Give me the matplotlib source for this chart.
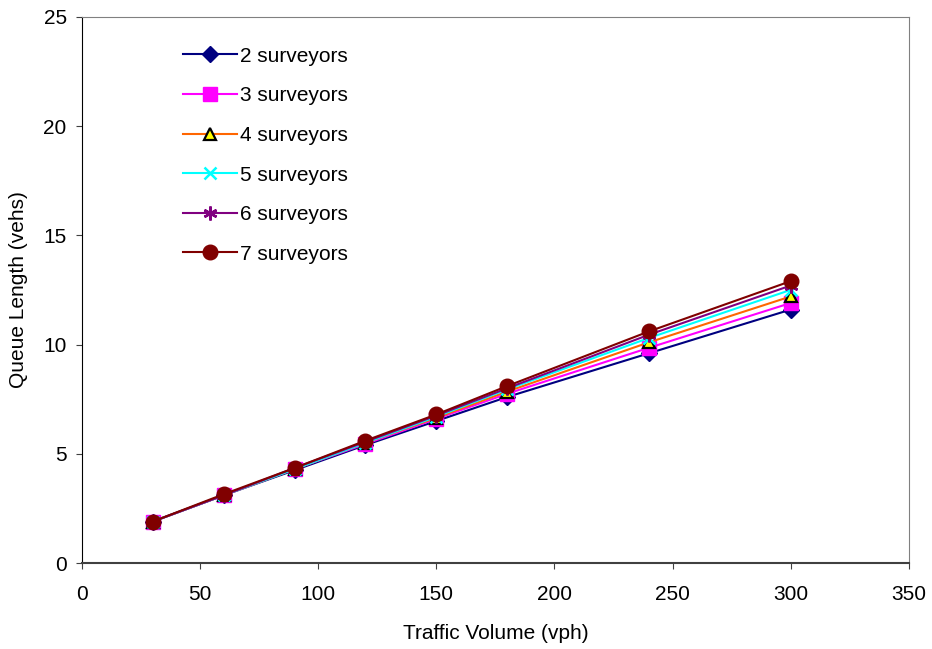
import numpy as np
import matplotlib
matplotlib.use('Agg')
import matplotlib.pyplot as plt

plt.rcParams['font.family'] = ['Liberation Sans', 'DejaVu Sans']

# Queue length vs traffic volume for different survey team sizes
volume = [30, 60, 90, 120, 150, 180, 240, 300]
q2 = [1.9, 3.1, 4.25, 5.4, 6.5, 7.6, 9.6, 11.6]
q3 = [1.9, 3.1, 4.3, 5.45, 6.6, 7.75, 9.85, 11.9]
q4 = [1.9, 3.1, 4.3, 5.5, 6.65, 7.85, 10.1, 12.2]
q5 = [1.9, 3.1, 4.3, 5.5, 6.7, 7.95, 10.3, 12.5]
q6 = [1.9, 3.1, 4.35, 5.55, 6.75, 8.0, 10.45, 12.7]
q7 = [1.9, 3.15, 4.35, 5.6, 6.8, 8.1, 10.6, 12.9]
labels = ['2 surveyors', '3 surveyors', '4 surveyors',
          '5 surveyors', '6 surveyors', '7 surveyors']

fig = plt.figure(figsize=(9.32, 6.49), dpi=100)
ax = fig.add_axes([0.088, 0.1325, 0.887, 0.8415])

ax.plot(volume, q2, color='#000080', marker='D', markersize=8.5, lw=1.5, label=labels[0])
ax.plot(volume, q3, color='#FF00FF', marker='s', markersize=9.5, lw=1.5, label=labels[1])
ax.plot(volume, q4, color='#FF6600', marker='^', markersize=9, lw=1.5,
        markerfacecolor='#FFFF00', markeredgecolor='black', markeredgewidth=1.6, label=labels[2])
ax.plot(volume, q5, color='#00FFFF', marker='x', markersize=9, markeredgewidth=1.8, lw=1.5, label=labels[3])
ax.plot(volume, q6, color='#800080', marker=(6, 2, 0), markersize=10, markeredgewidth=1.8, lw=1.5, label=labels[4])
ax.plot(volume, q7, color='#800000', marker='o', markersize=10.5, lw=1.5, label=labels[5])

ax.set_xlim(0, 350)
ax.set_ylim(0, 25)
ax.set_xticks(np.arange(0, 351, 50))
ax.set_yticks(np.arange(0, 26, 5))
ax.tick_params(direction='out', length=4, labelsize=15, color='#404040')
ax.tick_params(axis='x', pad=12)
ax.tick_params(axis='y', pad=7)
for side in ['top', 'right']:
    ax.spines[side].set_color('#808080')
ax.spines['left'].set_color('black')
ax.spines['bottom'].set_color('#404040')
ax.spines['bottom'].set_linewidth(1.5)

ax.set_xlabel('Traffic Volume (vph)', fontsize=15, labelpad=14)
ax.set_ylabel('Queue Length (vehs)', fontsize=15, labelpad=11)

ax.legend(loc='upper left', bbox_to_anchor=(0.122, 0.9455), frameon=False, fontsize=15,
          handlelength=2.6, handletextpad=0.15, labelspacing=0.99,
          borderaxespad=0, borderpad=0)

fig.savefig('out.png', dpi=100)
